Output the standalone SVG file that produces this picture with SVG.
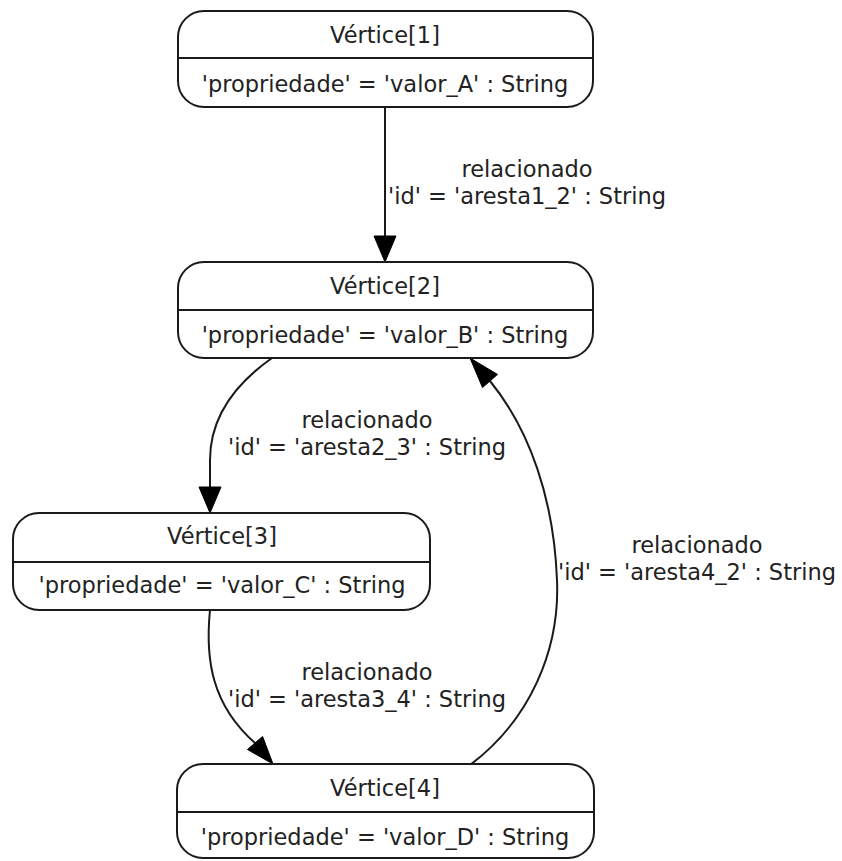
<svg xmlns="http://www.w3.org/2000/svg" width="842" height="861" viewBox="0 0 842 861">
  <style>
    .box { fill: #ffffff; stroke: #1a1a1a; stroke-width: 2; }
    .div { stroke: #1a1a1a; stroke-width: 2; }
    .edge { fill: none; stroke: #1a1a1a; stroke-width: 2; }
    .head { fill: #000000; stroke: #000000; stroke-width: 1; }
    text { font-family: "DejaVu Sans", "Liberation Sans", sans-serif; font-size: 22.5px; fill: #222222; text-anchor: middle; }
  </style>
  <rect width="842" height="861" fill="#ffffff"/>

  <g id="connectors">
    <!-- Vértice[1] -> Vértice[2] -->
    <path class="edge" d="M385,107 L385,236"/>
    <polygon class="head" points="374,236 385,262 396,236"/>
    <text x="527" y="177">relacionado</text>
    <text x="527" y="204">'id' = 'aresta1_2' : String</text>

    <!-- Vértice[2] -> Vértice[3] -->
    <path class="edge" d="M272,358 C238,382 210,415 210,460 L210,487"/>
    <polygon class="head" points="199,487 210,513 221,487"/>
    <text x="367" y="428">relacionado</text>
    <text x="367" y="455">'id' = 'aresta2_3' : String</text>

    <!-- Vértice[3] -> Vértice[4] -->
    <path class="edge" d="M210,610 C205,660 212,705 255,743"/>
    <polygon class="head" points="247.4,749.5 273,764 262.6,736.5"/>
    <text x="367" y="680">relacionado</text>
    <text x="367" y="707">'id' = 'aresta3_4' : String</text>

    <!-- Vértice[4] -> Vértice[2] -->
    <path class="edge" d="M470,765 C530,720 560,650 557,580 C554,500 530,430 490,381"/>
    <polygon class="head" points="497.5,374.4 470,358 482.5,387.6"/>
    <text x="697" y="553">relacionado</text>
    <text x="697" y="580">'id' = 'aresta4_2' : String</text>
  </g>

  <g id="vertice1">
    <rect class="box" x="178" y="11" width="415" height="96" rx="26" ry="26"/>
    <line class="div" x1="178" y1="58" x2="593" y2="58"/>
    <text x="385" y="43">Vértice[1]</text>
    <text x="385" y="92">'propriedade' = 'valor_A' : String</text>
  </g>

  <g id="vertice2">
    <rect class="box" x="178" y="262" width="415" height="96" rx="26" ry="26"/>
    <line class="div" x1="178" y1="310" x2="593" y2="310"/>
    <text x="385" y="294">Vértice[2]</text>
    <text x="385" y="343">'propriedade' = 'valor_B' : String</text>
  </g>

  <g id="vertice3">
    <rect class="box" x="13" y="513" width="417" height="97" rx="26" ry="26"/>
    <line class="div" x1="13" y1="562" x2="430" y2="562"/>
    <text x="222" y="544">Vértice[3]</text>
    <text x="222" y="593">'propriedade' = 'valor_C' : String</text>
  </g>

  <g id="vertice4">
    <rect class="box" x="177" y="764" width="417" height="94" rx="26" ry="26"/>
    <line class="div" x1="177" y1="812" x2="594" y2="812"/>
    <text x="385" y="796">Vértice[4]</text>
    <text x="385" y="845">'propriedade' = 'valor_D' : String</text>
  </g>
</svg>
